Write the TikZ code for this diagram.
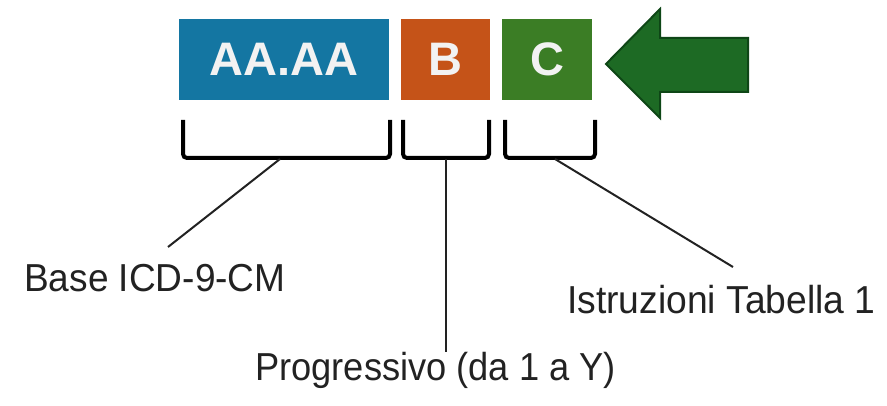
\documentclass[tikz,border=0pt]{standalone}
\usepackage{fontspec}
\setmainfont{Liberation Sans}
\definecolor{boxblue}{HTML}{1476A2}
\definecolor{boxorange}{HTML}{C55318}
\definecolor{boxgreen}{HTML}{3B7D25}
\definecolor{arrowfill}{HTML}{1D6A24}
\definecolor{arrowedge}{HTML}{0E4616}
\definecolor{labelgray}{HTML}{222222}
\begin{document}
\begin{tikzpicture}[x=1pt,y=-1pt,
  codebox/.style={inner sep=0pt,outer sep=0pt,text=white!95!black,
    font=\fontsize{47}{47}\selectfont\bfseries},
  bracket/.style={line width=4pt,rounded corners=4pt,black},
  leader/.style={line width=2pt,labelgray},
  lbl/.style={inner sep=0pt,text=labelgray,font=\fontsize{39}{39}\selectfont,anchor=base west}]
\useasboundingbox (0,0) rectangle (887,406);
% code boxes
\fill[boxblue] (179,19) rectangle (389,100);
\node[codebox] (a) at (284,59.5) {AA.AA};
\fill[boxorange] (401,19) rectangle (490,100);
\node[codebox] (b) at (445.5,59.5) {B};
\fill[boxgreen] (502,19) rectangle (592,100);
\node[codebox] (c) at (547,59.5) {C};
% big arrow
\draw[fill=arrowfill,draw=arrowedge,line width=2pt,line join=miter]
  (606,64) -- (660,9) -- (660,38) -- (748,38) -- (748,92) -- (660,92) -- (660,118) -- cycle;
% brackets
\draw[bracket] (183,120) -- (183,158) -- (390,158) -- (390,120);
\draw[bracket] (403,120) -- (403,158) -- (489,158) -- (489,120);
\draw[bracket] (505,120) -- (505,158) -- (595,158) -- (595,120);
\coordinate (ba) at (280,159);
\coordinate (bb) at (446,159);
\coordinate (bc) at (555,159);
% labels
\node[lbl] (la) at (24,292) {\scalebox{0.95}[1]{Base ICD-9-CM}};
\node[lbl] (lc) at (567,313) {\scalebox{0.955}[1]{Istruzioni Tabella 1}};
\node[lbl] (lb) at (255,381) {\scalebox{0.93}[1]{Progressivo (da 1 a Y)}};
\coordinate (ea) at (168,247);
\coordinate (eb) at (446,352);
\coordinate (ec) at (733,267);
\draw[leader] (ba) -- (ea);
\draw[leader] (bb) -- (eb);
\draw[leader] (bc) -- (ec);
\end{tikzpicture}
\end{document}
